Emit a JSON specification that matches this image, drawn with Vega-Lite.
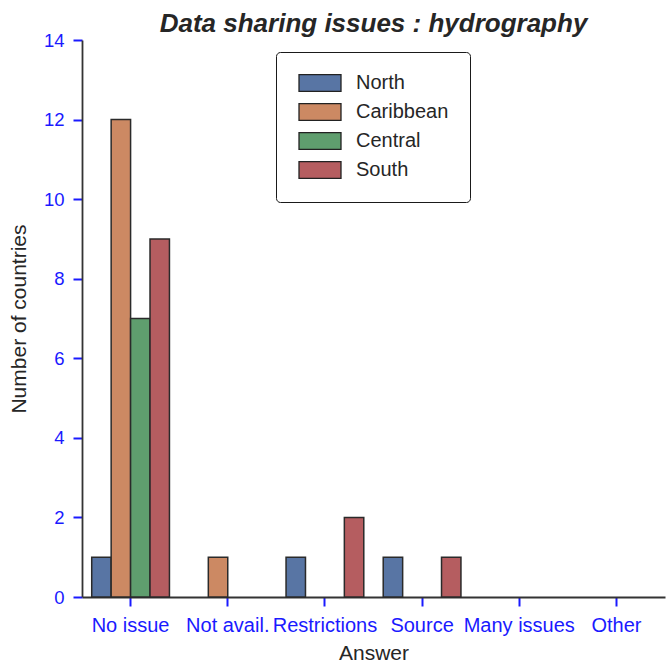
{
  "$schema": "https://vega.github.io/schema/vega-lite/v6.json",
  "width": 583,
  "height": 557,
  "autosize": {"type": "none"},
  "padding": {"left": 82, "top": 40, "right": 3, "bottom": 70},
  "background": "white",
  "title": {
    "text": "Data sharing issues : hydrography",
    "fontSize": 26,
    "fontStyle": "italic",
    "fontWeight": "bold",
    "font": "Liberation Sans",
    "color": "#262626",
    "anchor": "middle",
    "offset": -6
  },
  "config": {
    "view": {"stroke": null},
    "font": "Liberation Sans"
  },
  "data": {
    "values": [
      {"answer": "No issue", "region": "North", "count": 1},
      {"answer": "No issue", "region": "Caribbean", "count": 12},
      {"answer": "No issue", "region": "Central", "count": 7},
      {"answer": "No issue", "region": "South", "count": 9},
      {"answer": "Not avail.", "region": "North", "count": 0},
      {"answer": "Not avail.", "region": "Caribbean", "count": 1},
      {"answer": "Not avail.", "region": "Central", "count": 0},
      {"answer": "Not avail.", "region": "South", "count": 0},
      {"answer": "Restrictions", "region": "North", "count": 1},
      {"answer": "Restrictions", "region": "Caribbean", "count": 0},
      {"answer": "Restrictions", "region": "Central", "count": 0},
      {"answer": "Restrictions", "region": "South", "count": 2},
      {"answer": "Source", "region": "North", "count": 1},
      {"answer": "Source", "region": "Caribbean", "count": 0},
      {"answer": "Source", "region": "Central", "count": 0},
      {"answer": "Source", "region": "South", "count": 1},
      {"answer": "Many issues", "region": "North", "count": 0},
      {"answer": "Many issues", "region": "Caribbean", "count": 0},
      {"answer": "Many issues", "region": "Central", "count": 0},
      {"answer": "Many issues", "region": "South", "count": 0},
      {"answer": "Other", "region": "North", "count": 0},
      {"answer": "Other", "region": "Caribbean", "count": 0},
      {"answer": "Other", "region": "Central", "count": 0},
      {"answer": "Other", "region": "South", "count": 0}
    ]
  },
  "transform": [{"filter": "datum.count > 0"}],
  "mark": {"type": "bar", "stroke": "#2a2a2a", "strokeWidth": 1.5, "opacity": 1},
  "encoding": {
    "x": {
      "field": "answer",
      "type": "nominal",
      "sort": ["No issue", "Not avail.", "Restrictions", "Source", "Many issues", "Other"],
      "scale": {"domain": ["No issue", "Not avail.", "Restrictions", "Source", "Many issues", "Other"], "paddingInner": 0.2, "paddingOuter": 0.1},
      "axis": {
        "title": "Answer",
        "labelAngle": 0,
        "labelColor": "#1a1aff",
        "labelFontSize": 20,
        "labelPadding": 9,
        "tickColor": "#1a1aff",
        "tickSize": 9,
        "tickWidth": 2,
        "domainColor": "#333333",
        "domainWidth": 1.8,
        "titleFontSize": 21,
        "titleFontWeight": "normal",
        "titleColor": "#262626",
        "titlePadding": 7,
        "grid": false
      }
    },
    "xOffset": {
      "field": "region",
      "type": "nominal",
      "sort": ["North", "Caribbean", "Central", "South"],
      "scale": {"domain": ["North", "Caribbean", "Central", "South"], "paddingInner": 0, "paddingOuter": 0}
    },
    "y": {
      "field": "count",
      "type": "quantitative",
      "scale": {"domain": [0, 14], "nice": false},
      "axis": {
        "title": "Number of countries",
        "values": [0, 2, 4, 6, 8, 10, 12, 14],
        "labelColor": "#1a1aff",
        "labelFontSize": 18.5,
        "labelPadding": 9,
        "tickColor": "#1a1aff",
        "tickSize": 9,
        "tickWidth": 2,
        "domainColor": "#333333",
        "domainWidth": 1.8,
        "titleFontSize": 21,
        "titleFontWeight": "normal",
        "titleColor": "#262626",
        "titlePadding": 14,
        "grid": false
      }
    },
    "fill": {
      "field": "region",
      "type": "nominal",
      "sort": ["North", "Caribbean", "Central", "South"],
      "scale": {
        "domain": ["North", "Caribbean", "Central", "South"],
        "range": ["#5875a4", "#cc8963", "#5f9e6e", "#b55d60"]
      },
      "legend": {
        "title": null,
        "orient": "none",
        "legendX": 194,
        "legendY": 12,
        "fillColor": "white",
        "strokeColor": "#1a1a1a",
        "cornerRadius": 4,
        "padding": 21,
        "symbolType": "M-2.5,-1H2.5V1H-2.5Z",
        "symbolSize": 282,
        "symbolOffset": 13,
        "symbolStrokeColor": "#222222",
        "symbolStrokeWidth": 1.3,
        "symbolOpacity": 1,
        "labelFontSize": 20,
        "labelColor": "#262626",
        "labelOffset": 26,
        "rowPadding": 7,
        "labelLimit": 300
      }
    }
  }
}
